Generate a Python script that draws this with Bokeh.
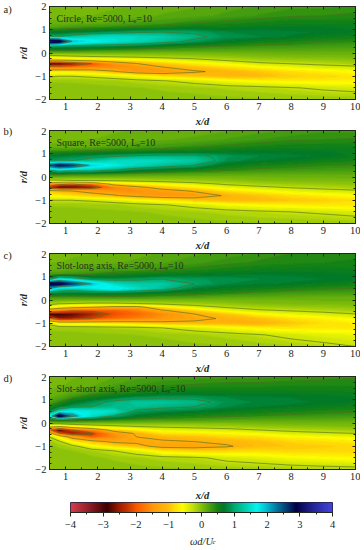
import numpy as np
from bokeh.plotting import figure
from bokeh.layouts import column
from bokeh.models import (Range1d, LinearAxis, SingleIntervalTicker, Label, LinearColorMapper)
from bokeh.embed import file_html
from bokeh.resources import INLINE

X_STATIONS = [0.5, 0.8, 1.2, 1.8, 2.5, 3.2, 4, 5, 6, 7, 8, 9, 10]
R_STATIONS = [2.0, 1.6, 1.3, 1.1, 0.9, 0.7, 0.5, 0.3, 0.15, 0.0, -0.15, -0.3, -0.45, -0.6, -0.8, -1.0, -1.2, -1.5, -2.0]

CIRCLE = [
 [.02,.02,.03,.05,.07,.1,.12,.15,.2,.25,.3,.3,.35],
 [.05,.05,.06,.08,.1,.12,.17,.2,.27,.33,.38,.4,.42],
 [.1,.1,.12,.14,.18,.25,.3,.4,.45,.5,.55,.55,.55],
 [.22,.25,.3,.35,.4,.45,.5,.6,.6,.65,.65,.65,.62],
 [.65,.65,.7,.75,.85,.95,1.0,.95,.8,.8,.75,.7,.65],
 [1.0,1.0,1.2,1.4,1.5,1.45,1.35,1.1,.85,.8,.7,.6,.55],
 [3.2,3.0,2.0,1.75,1.55,1.4,1.2,.9,.7,.55,.5,.42,.4],
 [1.0,.95,.9,.85,.8,.7,.55,.45,.4,.35,.33,.3,.28],
 [.5,.5,.5,.42,.38,.35,.3,.27,.25,.22,.22,.2,.2],
 [.05,.05,.05,.05,.05,.05,.05,.05,.08,.1,.12,.12,.12],
 [-.45,-.4,-.35,-.3,-.25,-.2,-.15,-.1,-.05,0,.02,.03,.05],
 [-1.1,-1.1,-1.0,-.9,-.8,-.7,-.55,-.4,-.25,-.15,-.1,-.08,-.05],
 [-3.0,-3.0,-2.7,-2.2,-1.5,-1.2,-.95,-.7,-.55,-.35,-.28,-.22,-.15],
 [-2.0,-2.0,-1.9,-1.7,-1.6,-1.5,-1.2,-1.0,-.8,-.65,-.5,-.4,-.35],
 [-.75,-.75,-.8,-.9,-1.15,-1.45,-1.5,-1.25,-1.1,-.95,-.8,-.7,-.6],
 [-.35,-.3,-.3,-.35,-.45,-.6,-.8,-.95,-1.1,-1.05,-.9,-.85,-.75],
 [-.1,-.1,-.1,-.12,-.15,-.2,-.28,-.4,-.55,-.65,-.7,-.7,-.7],
 [-.02,-.02,-.03,-.04,-.05,-.07,-.1,-.13,-.18,-.22,-.28,-.35,-.4],
 [0,0,0,0,0,0,-.02,-.03,-.05,-.06,-.07,-.08,-.1],
]
SQUARE = [
 [.03,.03,.04,.05,.07,.09,.1,.12,.15,.2,.25,.3,.3],
 [.05,.06,.07,.08,.1,.12,.15,.18,.25,.32,.38,.4,.42],
 [.1,.1,.12,.15,.2,.25,.3,.38,.45,.5,.55,.55,.55],
 [.35,.38,.4,.45,.5,.5,.55,.6,.65,.68,.68,.65,.62],
 [.75,.75,.8,.85,.95,1.05,1.1,1.1,.9,.8,.75,.7,.62],
 [.9,.95,1.0,1.2,1.45,1.5,1.45,1.3,.85,.72,.65,.55,.5],
 [2.4,2.8,2.6,1.9,1.65,1.4,1.2,1.0,.62,.5,.45,.4,.38],
 [1.1,1.3,1.2,1.25,1.0,.75,.6,.5,.42,.35,.32,.3,.28],
 [.5,.5,.45,.42,.38,.32,.28,.25,.22,.2,.18,.18,.18],
 [.1,.1,.08,.06,.05,.05,.05,.05,.06,.08,.1,.1,.12],
 [-.35,-.35,-.3,-.28,-.25,-.2,-.15,-.1,-.05,0,.02,.02,.03],
 [-1.6,-2.0,-2.2,-1.9,-1.0,-.75,-.6,-.42,-.25,-.15,-.1,-.08,-.05],
 [-2.6,-3.0,-3.0,-2.6,-1.7,-1.35,-1.0,-.75,-.5,-.38,-.28,-.22,-.15],
 [-1.0,-1.1,-1.2,-1.4,-1.5,-1.55,-1.4,-1.15,-.8,-.65,-.5,-.4,-.35],
 [-.65,-.7,-.8,-.95,-1.15,-1.35,-1.5,-1.45,-1.15,-.95,-.8,-.7,-.6],
 [-.3,-.3,-.3,-.35,-.45,-.6,-.75,-.95,-1.1,-1.05,-.95,-.9,-.8],
 [-.1,-.1,-.1,-.12,-.15,-.2,-.28,-.4,-.55,-.65,-.7,-.75,-.75],
 [-.03,-.03,-.03,-.04,-.05,-.07,-.1,-.15,-.2,-.25,-.3,-.35,-.42],
 [0,0,0,0,0,0,-.02,-.03,-.05,-.06,-.07,-.08,-.1],
]
SLOT_LONG = [
 [.05,.05,.06,.08,.1,.13,.17,.22,.28,.33,.4,.4,.45],
 [.08,.08,.1,.12,.15,.18,.23,.3,.36,.42,.45,.48,.5],
 [.15,.15,.18,.22,.28,.3,.38,.45,.52,.58,.6,.6,.58],
 [.3,.3,.35,.4,.5,.55,.6,.65,.7,.72,.7,.68,.65],
 [.8,1.5,1.3,.9,.85,.9,1.0,.9,.85,.8,.78,.72,.65],
 [3.0,3.0,2.6,2.0,1.45,1.3,1.3,1.0,.8,.75,.7,.62,.55],
 [2.0,1.4,1.3,1.55,1.8,1.5,1.2,.75,.65,.55,.48,.42,.4],
 [.8,.75,.7,.7,.65,.65,.55,.5,.42,.35,.3,.28,.28],
 [.4,.35,.35,.38,.4,.38,.32,.28,.22,.2,.18,.16,.16],
 [.1,.1,.08,.06,.06,.06,.06,.06,.06,.08,.08,.1,.1],
 [-.15,-.25,-.3,-.35,-.35,-.3,-.2,-.12,-.05,0,.02,.03,.05],
 [-.6,-.8,-.95,-1.1,-1.3,-1.35,-.8,-.45,-.25,-.15,-.1,-.08,-.05],
 [-1.6,-1.8,-2.1,-2.1,-2.0,-1.7,-1.25,-.9,-.55,-.35,-.27,-.2,-.15],
 [-3.0,-2.9,-2.8,-2.5,-2.1,-1.9,-1.6,-1.2,-.95,-.65,-.5,-.4,-.3],
 [-2.0,-2.6,-2.5,-2.2,-1.9,-1.7,-1.5,-1.3,-1.15,-1.0,-.8,-.68,-.55],
 [-.4,-.75,-.8,-.8,-.85,-.95,-1.05,-1.1,-1.15,-1.15,-.95,-.8,-.7],
 [-.12,-.12,-.12,-.15,-.18,-.2,-.3,-.42,-.55,-.7,-.75,-.75,-.72],
 [-.03,-.03,-.04,-.05,-.06,-.08,-.1,-.15,-.2,-.28,-.38,-.45,-.5],
 [0,0,0,0,0,-.02,-.03,-.05,-.07,-.1,-.15,-.22,-.3],
]
SLOT_SHORT = [
 [.05,.05,.07,.1,.15,.2,.25,.28,.3,.3,.32,.35,.38],
 [.05,.07,.1,.15,.25,.33,.4,.42,.45,.45,.48,.48,.48],
 [.1,.12,.18,.3,.42,.5,.6,.62,.6,.62,.62,.6,.58],
 [.15,.2,.35,.55,.7,.85,.9,.9,.8,.75,.72,.7,.65],
 [.25,.4,.65,.85,1.1,1.25,1.25,1.15,.85,.78,.75,.7,.65],
 [.45,.7,.9,1.0,1.15,1.2,1.1,1.0,.8,.72,.68,.6,.55],
 [.8,1.4,1.7,1.6,1.5,.9,.8,.72,.62,.55,.5,.45,.42],
 [1.6,3.1,2.2,1.5,1.0,.7,.55,.48,.42,.38,.35,.32,.3],
 [.6,.65,.6,.5,.42,.35,.3,.28,.25,.22,.2,.2,.18],
 [-.1,-.05,.02,.03,.03,.03,.03,.03,.03,.06,.08,.08,.08],
 [-1.0,-1.2,-.8,-.55,-.4,-.3,-.25,-.2,-.15,-.08,-.05,-.02,0],
 [-2.0,-3.0,-2.2,-1.7,-1.0,-.75,-.5,-.45,-.4,-.3,-.22,-.18,-.12],
 [-.9,-2.1,-2.6,-2.3,-1.5,-1.15,-.8,-.75,-.65,-.55,-.42,-.35,-.3],
 [-.3,-.7,-1.4,-2.0,-1.6,-1.2,-1.1,-1.0,-.85,-.8,-.65,-.6,-.5],
 [-.1,-.25,-.7,-1.0,-1.3,-1.3,-1.25,-1.2,-1.1,-1.0,-.85,-.8,-.72],
 [-.05,-.1,-.2,-.55,-.8,-1.05,-1.35,-1.35,-1.25,-1.0,-.95,-.9,-.85],
 [-.02,-.05,-.07,-.15,-.3,-.45,-.75,-.9,-.85,-.8,-.85,-.85,-.85],
 [0,-.02,-.03,-.05,-.1,-.15,-.2,-.25,-.38,-.45,-.55,-.6,-.65],
 [0,0,0,-.01,-.02,-.03,-.05,-.07,-.1,-.12,-.15,-.18,-.2],
]

TITLES = ["Circle, Re=5000, L\u2091=10", "Square, Re=5000, L\u2091=10",
          "Slot-long axis, Re=5000, L\u2091=10", "Slot-short axis, Re=5000, L\u2091=10"]
LETTERS = ["a)", "b)", "c)", "d)"]
R_TICK_LABELS = {-2: "\u22122", -1: "\u22121", 0: "0", 1: "1", 2: "2"}
CB_TICK_LABELS = {-4: "\u22124", -3: "\u22123", -2: "\u22122", -1: "\u22121", 0: "0", 1: "1", 2: "2", 3: "3", 4: "4"}
LINE_LEVELS = [-2.2, -1.2, -0.3, 0.4, 1.0, 2.0]

CMAP_V = [-4, -3.5, -2.9, -2.5, -2, -1.5, -1, -0.6, -0.25, 0, 0.5, 0.7, 1, 1.7, 2, 2.5, 2.9, 3.5, 4]
CMAP_R = [205, 150, 60, 160, 250, 255, 255, 255, 190, 130, 20, 0, 0, 0, 0, 0, 0, 40, 65]
CMAP_G = [60, 30, 0, 30, 90, 150, 190, 255, 220, 190, 130, 120, 170, 245, 190, 80, 0, 40, 65]
CMAP_B = [75, 40, 0, 0, 0, 10, 10, 0, 10, 10, 20, 40, 110, 240, 210, 130, 70, 160, 215]


def color_at(v):
    return "#%02x%02x%02x" % tuple(int(round(np.interp(v, CMAP_V, c))) for c in (CMAP_R, CMAP_G, CMAP_B))


SERIF = "Liberation Serif"
INK = "#20281c"
FILL_LEVELS = np.arange(-4, 4.001, 0.08)
FILL_COLORS = [color_at((a + b) / 2) for a, b in zip(FILL_LEVELS[:-1], FILL_LEVELS[1:])]
SEAM_COLORS = [color_at(v) for v in FILL_LEVELS]
FRAME_H = 93


def panel(z, title, letter, top, bottom, overlap, letter_y, label_standoff):
    p = figure(width=360, height=top + FRAME_H + bottom, output_backend="svg", toolbar_location=None,
               x_range=Range1d(0.5, 10), y_range=Range1d(-2, 2), frame_align=False,
               min_border_left=49, min_border_right=5, min_border_top=top, min_border_bottom=bottom,
               margin=(0, 0, -overlap, 0),
               x_axis_type=None, y_axis_type=None, background_fill_color="#82be14",
               border_fill_color=None, outline_line_color=INK, outline_line_width=1)
    p.grid.visible = False
    zz = np.array(z, dtype=float)[::-1]
    rr = np.array(R_STATIONS)[::-1]
    p.contour(X_STATIONS, rr, zz, levels=FILL_LEVELS, fill_color=FILL_COLORS,
              line_color=SEAM_COLORS, line_width=1.2)
    p.contour(X_STATIONS, rr, zz, levels=LINE_LEVELS, fill_color=None,
              line_color="#4e6a20", line_width=0.7, line_alpha=0.85)
    for loc in ("below", "above"):
        ax = LinearAxis(ticker=SingleIntervalTicker(interval=1, num_minor_ticks=2),
                        major_tick_in=3, major_tick_out=0, minor_tick_in=2, minor_tick_out=0,
                        axis_line_color=INK, major_tick_line_color=INK, minor_tick_line_color=INK)
        if loc == "below":
            ax.major_label_text_font = SERIF
            ax.major_label_text_font_size = "10.5px"
            ax.major_label_text_color = INK
            ax.major_label_standoff = 3
            ax.axis_label = "x/d"
            ax.axis_label_text_font = SERIF
            ax.axis_label_text_font_style = "bold italic"
            ax.axis_label_text_font_size = "10.5px"
            ax.axis_label_text_color = INK
            ax.axis_label_standoff = label_standoff
        else:
            ax.major_label_overrides = {i: "" for i in range(0, 11)}
            ax.major_label_text_font_size = "1px"
            ax.major_label_standoff = 0
        p.add_layout(ax, loc)
    for loc in ("left", "right"):
        ax = LinearAxis(ticker=SingleIntervalTicker(interval=1, num_minor_ticks=4),
                        major_tick_in=3, major_tick_out=0, minor_tick_in=2, minor_tick_out=0,
                        axis_line_color=INK, major_tick_line_color=INK, minor_tick_line_color=INK)
        if loc == "left":
            ax.major_label_overrides = dict(R_TICK_LABELS)
            ax.major_label_text_font = SERIF
            ax.major_label_text_font_size = "10.5px"
            ax.major_label_text_color = INK
            ax.major_label_standoff = 3
            ax.axis_label = "r/d"
            ax.axis_label_text_font = SERIF
            ax.axis_label_text_font_style = "bold italic"
            ax.axis_label_text_font_size = "10.5px"
            ax.axis_label_text_color = INK
            ax.axis_label_standoff = 3
        else:
            ax.major_label_overrides = {i: "" for i in range(-2, 3)}
            ax.major_label_text_font_size = "1px"
            ax.major_label_standoff = 0
        p.add_layout(ax, loc)
    p.add_layout(Label(x=7, y=FRAME_H - 12, x_units="screen", y_units="screen", text=title,
                       text_font=SERIF, text_font_size="10px", text_color="#22331a",
                       text_baseline="middle"))
    # a side-panel label is not clipped to the frame; canvas units are the figure's own pixels
    p.add_layout(Label(x=3, y=letter_y, x_units="canvas", y_units="canvas", text=letter,
                       text_font=SERIF, text_font_size="10.5px", text_color=INK, text_baseline="middle"), "left")
    return p


pa = panel(CIRCLE, TITLES[0], LETTERS[0], 6, 34, 6, 9, 3)
pb = panel(SQUARE, TITLES[1], LETTERS[1], 3, 34, 7, 4, 3)
pc = panel(SLOT_LONG, TITLES[2], LETTERS[2], 3, 34, 7, 5, 3)
pd = panel(SLOT_SHORT, TITLES[3], LETTERS[3], 3, 38, 9, 5, 7)

# colour bar
cb = figure(width=360, height=52, output_backend="svg", toolbar_location=None,
            x_range=Range1d(-4, 4), y_range=Range1d(0, 1), frame_align=False,
            min_border_left=70, min_border_right=28, min_border_top=4, min_border_bottom=38,
            x_axis_type=None, y_axis_type=None, border_fill_color=None,
            outline_line_color="#202040", outline_line_width=1)
cb.grid.visible = False
mapper = LinearColorMapper(palette=[color_at(v) for v in np.linspace(-4, 4, 256)], low=-4, high=4)
cb.image(image=[np.linspace(-4, 4, 262).reshape(1, -1)], x=-4, y=0, dw=8, dh=1, color_mapper=mapper)
cax = LinearAxis(ticker=SingleIntervalTicker(interval=1, num_minor_ticks=2),
                 major_tick_in=0, major_tick_out=4, minor_tick_in=0, minor_tick_out=2,
                 axis_line_color=INK, major_tick_line_color=INK, minor_tick_line_color=INK,
                 major_label_overrides=dict(CB_TICK_LABELS), major_label_text_font=SERIF,
                 major_label_text_font_size="10.5px", major_label_text_color=INK, major_label_standoff=4,
                 axis_label="\u03c9d/U", axis_label_text_font=SERIF, axis_label_text_font_style="italic",
                 axis_label_text_font_size="10.5px", axis_label_text_color=INK, axis_label_standoff=5)
cb.add_layout(cax, "below")
cb.add_layout(Label(x=212, y=47, x_units="canvas", y_units="canvas", text="c", text_font=SERIF,
                    text_font_size="7px", text_font_style="italic", text_color=INK), "left")

page = column(pa, pb, pc, pd, cb, spacing=0, styles={"position": "absolute", "left": "0px", "top": "0px"})
open("out.html", "w").write(file_html(page, INLINE))
